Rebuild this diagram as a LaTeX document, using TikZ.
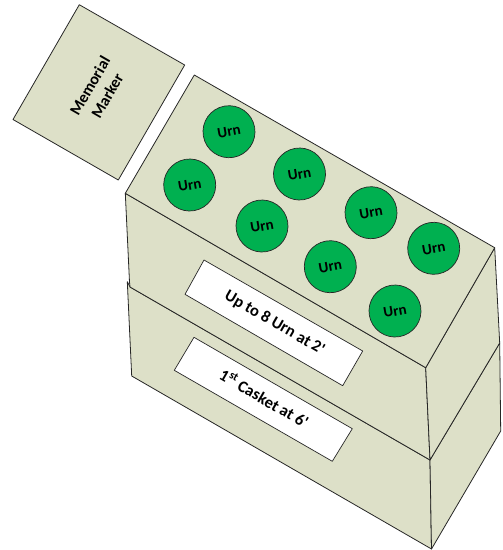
\documentclass[tikz,border=0pt]{standalone}
\usepackage{fontspec}
\setmainfont{Carlito}
\definecolor{boxfill}{RGB}{221,224,200}
\definecolor{urngreen}{RGB}{0,176,80}
\tikzset{
  x=1pt,y=-1pt,
  face/.style={draw=black!85,fill=boxfill,line width=0.8pt,line join=round},
  urn/.style={circle,draw=black!85,fill=urngreen,line width=0.7pt,minimum size=52pt,inner sep=0pt,font=\bfseries\fontsize{15}{17}\selectfont,rotate=10},
  plate/.style={draw=black!85,fill=white,line width=0.7pt,line join=round},
  platetext/.style={font=\bfseries\fontsize{16.5}{18}\selectfont,rotate=-30,inner sep=0pt},
  markertext/.style={font=\bfseries\fontsize{16}{20}\selectfont,rotate=60,align=center,inner sep=0pt}
}
\begin{document}
\begin{tikzpicture}
\useasboundingbox (0,0) rectangle (503,550);
% lower box
\draw[face] (127.3,281.7) -- (131.7,376) -- (431.5,549) -- (430,460) -- (130,287) -- cycle;
\draw[face] (430,460) -- (431.5,549) -- (500.7,431) -- (499.7,343) -- cycle;
% upper box
\draw[face] (125.3,193.3) -- (129.5,282) -- (130,287) -- (430,460) -- (425.7,367.7) -- cycle;
\draw[face] (425.7,367.7) -- (430,460) -- (499.7,343) -- (494.7,247.7) -- cycle;
\draw[face] (194.3,75) -- (494.7,247.7) -- (425.7,367.7) -- (125.3,193.3) -- cycle;
% marker
\draw[face] (79.3,4.7) -- (184.7,65) -- (118.3,180) -- (13,119.5) -- cycle;
\node[markertext] (marker) at (98.5,91) {Memorial\\Marker};
% urns
\node[urn] (u1) at (229,131.7) {Urn};
\node[urn] (u2) at (189.7,185) {Urn};
\node[urn] (u3) at (299.5,174) {Urn};
\node[urn] (u4) at (262,226) {Urn};
\node[urn] (u5) at (371,212.7) {Urn};
\node[urn] (u6) at (330.3,266.7) {Urn};
\node[urn] (u7) at (433.7,248.3) {Urn};
\node[urn] (u8) at (395,311) {Urn};
% plates
\draw[plate] (204,260) -- (362.7,351) -- (342.7,385.7) -- (185,294.3) -- cycle;
\node[platetext] (p1) at (274.5,323) {Up to 8 Urn at 2\textquotesingle};
\draw[plate] (194,337.3) -- (352.3,428.7) -- (332.3,461.3) -- (174.3,370.3) -- cycle;
\node[platetext] (p2) at (264.5,398) {1\textsuperscript{st} Casket at 6\textquotesingle};
\end{tikzpicture}
\end{document}
